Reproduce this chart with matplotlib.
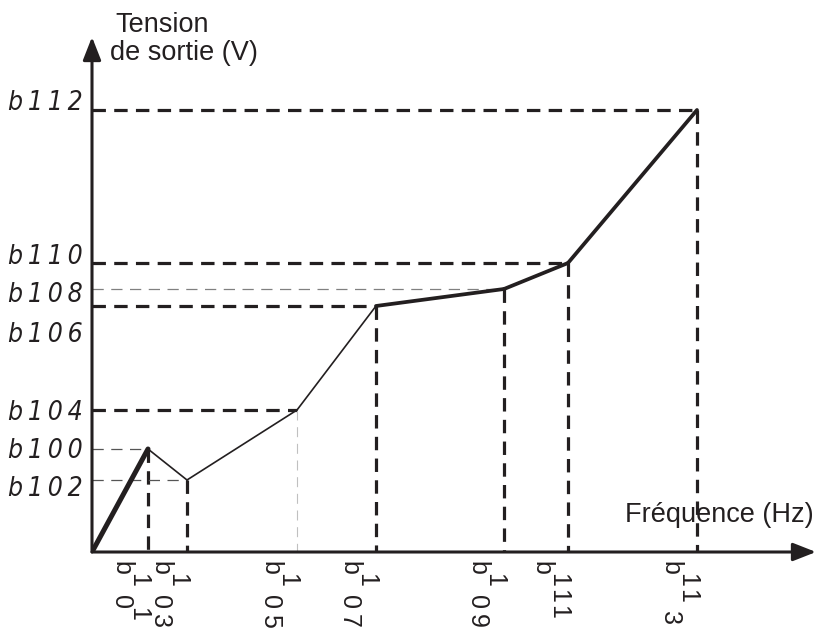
import matplotlib
matplotlib.use("Agg")
import matplotlib.pyplot as plt

plt.rcParams['font.family'] = ['Liberation Sans', 'DejaVu Sans']

# ---- data (arbitrary units) ----
freq = [0, 56, 95, 205, 284, 412, 476, 605]
volt = [0, 103, 72, 142, 246, 263, 289, 442]
freq_labels = ['b101', 'b103', 'b105', 'b107', 'b109', 'b111', 'b113']
freq_raised = ['0101', '0100', '0100', '0100', '0100', '0111', '0110']   # 1 = raised glyph
volt_labels = ['b100', 'b102', 'b104', 'b106', 'b108', 'b110', 'b112']
segment_weight = ['heavy', 'thin', 'thin', 'thin', 'thick', 'thick', 'thick']
h_guide = ['thin', 'thin', 'thick', 'thick', 'gray', 'thick', 'thick']
v_guide = ['thick', 'thick', 'light', 'thick', 'thick', 'thick', 'thick']

# ---- styles ----
INK = '#231f20'
seg_lw = {'heavy': 3.6, 'thick': 2.7, 'thin': 1.2}
guide_style = {
    'thick': dict(color=INK, lw=2.3, dashes=(4.2, 2.6)),
    'thin': dict(color='#555555', lw=0.9, dashes=(9, 6)),
    'gray': dict(color='#808080', lw=0.9, dashes=(9, 6)),
    'light': dict(color='#c0c0c0', lw=0.8, dashes=(9, 6)),
}
label_shift = [1, -7, 0, -27, -4, 9, 10]   # y-label vertical nudge (px, + = up)
# advance (px) between consecutive rotated glyphs, keyed by (prev raised, next raised)
advance = {(0, 0): 19, (0, 1): 12, (1, 1): 16, (1, 0): 22}

W, H = 818, 632
fig = plt.figure(figsize=(W / 100, H / 100), dpi=100)
ox, oy = 92, 552
xmax, ymax = 724, 515
ax = fig.add_axes([ox / W, (H - oy) / H, xmax / W, ymax / H])
ax.set_xlim(0, xmax)
ax.set_ylim(0, ymax)
ax.axis('off')

# guides
for i in range(1, len(freq)):
    x, y = freq[i], volt[i]
    hs = guide_style[h_guide[i - 1]]
    vs = guide_style[v_guide[i - 1]]
    ax.plot([0, x], [y, y], color=hs['color'], lw=hs['lw'], dashes=hs['dashes'],
            dash_capstyle='butt', zorder=2)
    ax.plot([x, x], [y, 0], color=vs['color'], lw=vs['lw'], dashes=vs['dashes'],
            dash_capstyle='butt', zorder=2)

# curve
for i in range(len(freq) - 1):
    ax.plot(freq[i:i + 2], volt[i:i + 2], color=INK, lw=seg_lw[segment_weight[i]],
            solid_capstyle='round', solid_joinstyle='round', zorder=3)

# axes with arrows
arrow = dict(arrowstyle='-|>,head_length=14,head_width=5.5', mutation_scale=1,
             lw=2.2, color=INK, shrinkA=0, shrinkB=0)
ax.annotate('', xy=(xmax, 0), xytext=(0, 0), arrowprops=arrow, annotation_clip=False, zorder=4)
ax.annotate('', xy=(0, ymax), xytext=(0, 0), arrowprops=arrow, annotation_clip=False, zorder=4)

# y labels (seven-segment look approximated)
for i in range(7):
    v = volt[i + 1]
    txt = '\u2009'.join(volt_labels[i])
    ax.text(-9, v + label_shift[i] - 9.5, txt, ha='right', va='baseline',
            fontsize=19, family=['DejaVu Sans'], style='oblique', fontstretch='condensed',
            color=INK, clip_on=False)

# x labels: rotated glyphs, some raised (shifted right)
for i in range(7):
    lab, mask = freq_labels[i], freq_raised[i]
    pos = 16
    prev = None
    for ch, r in zip(lab, mask):
        r = int(r)
        if prev is not None:
            pos += advance[(prev, r)]
        ax.annotate(ch, xy=(freq[i + 1], 0), xytext=(-27 + 17 * r, -pos),
                    textcoords='offset pixels', rotation=-90, ha='center', va='center',
                    fontsize=18, color=INK, annotation_clip=False)
        prev = r

# axis titles
ax.text(115 - ox, oy - 32, 'Tension', ha='left', va='baseline', fontsize=19.5, color=INK, clip_on=False)
ax.text(110 - ox, oy - 60, 'de sortie (V)', ha='left', va='baseline', fontsize=19.5, color=INK, clip_on=False)
ax.text(625 - ox, oy - 522, 'Fréquence (Hz)', ha='left', va='baseline', fontsize=19.5, color=INK, clip_on=False)

fig.savefig('out.png', dpi=100)
